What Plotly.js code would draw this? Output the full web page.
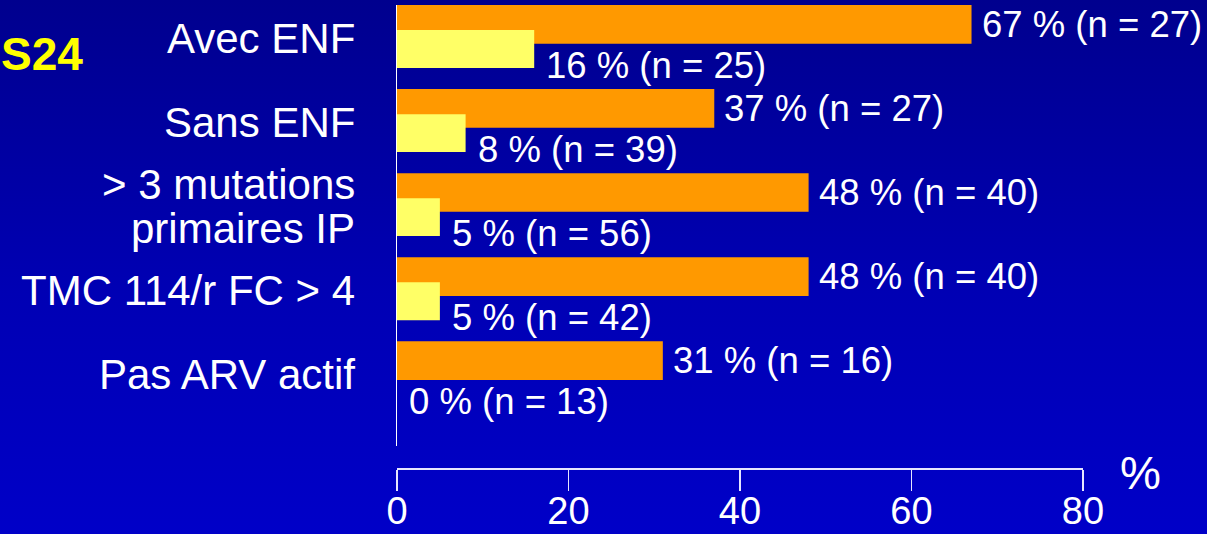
<!DOCTYPE html>
<html>
<head>
<meta charset="utf-8">
<script src="https://cdn.plot.ly/plotly-3.0.1.min.js"></script>
<style>
  html, body { margin: 0; padding: 0; }
  body { width: 1207px; height: 534px; overflow: hidden;
         background: linear-gradient(to bottom, #00008e 0%, #0000b4 55%, #0000c8 100%); }
  #chart { width: 1207px; height: 534px; }
</style>
</head>
<body>
<div id="chart"></div>
<script>
// Groups of patients (top to bottom)
const categories = [
  'Avec ENF',
  'Sans ENF',
  '> 3 mutations\nprimaires IP',
  'TMC 114/r FC > 4',
  'Pas ARV actif'
];
// Orange series: percentage and group size
const orangeValues = [67, 37, 48, 48, 31];
const orangeN = [27, 27, 40, 40, 16];
// Yellow series: percentage and group size
const yellowValues = [16, 8, 5, 5, 0];
const yellowN = [25, 39, 56, 42, 13];
// Axis ticks
const tickValues = [0, 20, 40, 60, 80];
const tickLabels = ['0', '20', '40', '60', '80'];

const FONT = 'Liberation Sans, Arial, Helvetica, sans-serif';
const ORANGE = '#ff9900';
const YELLOW = '#ffff66';

const traces = [
  {
    type: 'bar', orientation: 'h',
    x: orangeValues, y: categories,
    width: 0.46, offset: -0.375,
    marker: { color: ORANGE, line: { width: 0 } },
    hoverinfo: 'skip', showlegend: false
  },
  {
    type: 'bar', orientation: 'h',
    x: yellowValues, y: categories,
    width: 0.45, offset: -0.077,
    marker: { color: YELLOW, line: { width: 0 } },
    hoverinfo: 'skip', showlegend: false
  }
];

const annotations = [];

// Value labels next to each bar
const valueLabel = (v, n) => v + ' % (n = ' + n + ')';
categories.forEach((c, i) => {
  annotations.push({
    xref: 'x', yref: 'y', x: orangeValues[i], y: c,
    text: valueLabel(orangeValues[i], orangeN[i]),
    showarrow: false, xanchor: 'left', yanchor: 'middle',
    xshift: 8, yshift: 12,
    font: { family: FONT, size: 36.5, color: '#ffffff' }
  });
  annotations.push({
    xref: 'x', yref: 'y', x: yellowValues[i], y: c,
    text: valueLabel(yellowValues[i], yellowN[i]),
    showarrow: false, xanchor: 'left', yanchor: 'middle',
    xshift: 10, yshift: -29,
    font: { family: FONT, size: 36.5, color: '#ffffff' }
  });
});

// Category names on the left, one annotation per text line
const lineStep = 44;
categories.forEach((c) => {
  const lines = c.split('\n');
  lines.forEach((ln, k) => {
    annotations.push({
      xref: 'paper', yref: 'y', x: -0.058, y: c,
      text: ln, showarrow: false,
      xanchor: 'right', yanchor: 'middle',
      yshift: ((lines.length - 1) / 2 - k) * lineStep - 2,
      font: { family: FONT, size: 42, color: '#ffffff' }
    });
  });
});

// Unit at the end of the axis
annotations.push({
  xref: 'paper', yref: 'paper', x: 1.0845, y: -0.009,
  text: '%', showarrow: false, xanchor: 'center', yanchor: 'middle',
  font: { family: FONT, size: 46, color: '#ffffff' }
});

// Study tag
annotations.push({
  xref: 'paper', yref: 'paper', x: -0.4563, y: 0.894,
  text: '<b>S24</b>', showarrow: false, xanchor: 'right', yanchor: 'middle',
  borderpad: 0,
  font: { family: FONT, size: 46, color: '#ffff00' }
});

const layout = {
  width: 1207, height: 534,
  margin: { l: 397, r: 124, t: 5, b: 65, pad: 0 },
  paper_bgcolor: 'rgba(0,0,0,0)',
  plot_bgcolor: 'rgba(0,0,0,0)',
  barmode: 'overlay',
  showlegend: false,
  xaxis: {
    range: [0, 80],
    anchor: 'free', position: 0,
    tickmode: 'array', tickvals: tickValues, ticktext: tickLabels,
    ticks: 'outside', ticklen: 21, tickwidth: 1.5, tickcolor: '#e6e6ff',
    ticklabelstandoff: -13,
    showline: true, linecolor: '#e6e6ff', linewidth: 2,
    showgrid: false, zeroline: false,
    tickfont: { family: FONT, size: 38, color: '#ffffff' },
    fixedrange: true
  },
  yaxis: {
    domain: [0.0496, 1],
    type: 'category',
    categoryorder: 'array', categoryarray: categories,
    range: [4.869, -0.375],
    showticklabels: false, ticks: '',
    showline: true, linecolor: '#ffffff', linewidth: 1.5,
    showgrid: false, zeroline: false,
    fixedrange: true
  },
  annotations: annotations
};

Plotly.newPlot('chart', traces, layout, { staticPlot: true, displayModeBar: false });
</script>
</body>
</html>
